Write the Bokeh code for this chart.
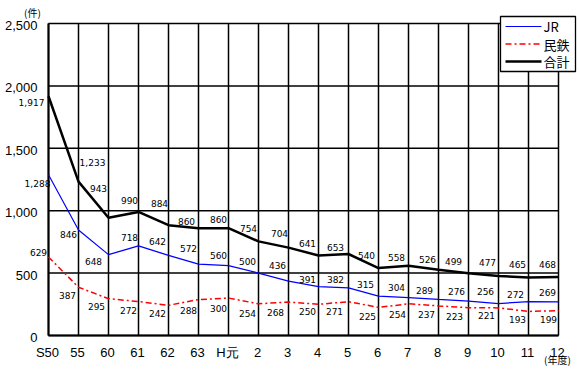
from bokeh.plotting import figure
from bokeh.models import ColumnDataSource, Range1d
from bokeh.core.properties import value
from bokeh.embed import file_html
from bokeh.resources import INLINE

# ---- data ----
years = ["S50", "55", "60", "61", "62", "63", "H元", "2", "3", "4", "5", "6",
         "7", "8", "9", "10", "11", "12"]
jr = [1288, 846, 648, 718, 642, 572, 560, 500, 436, 391, 382, 315, 304, 289,
      276, 256, 272, 269]
mintetsu = [629, 387, 295, 272, 242, 288, 300, 254, 268, 250, 271, 225, 254,
            237, 223, 221, 193, 199]
total = [1917, 1233, 943, 990, 884, 860, 860, 754, 704, 641, 653, 540, 558,
         526, 499, 477, 465, 468]
y_ticks = [0, 500, 1000, 1500, 2000, 2500]
series_names = ["JR", "民鉄", "合計"]

# ---- label placement (pixel offsets from each point; dy positive = down) ----
total_dx = [-17, 14, -10, -9, -9, -12, -10, -10, -9, -11, -13, -12, -12, -11, -15, -11, -11, -11]
total_dy = [6, -19, -29, -11, -22, -7, -9, -13, -14, -12, -7, -13, -8, -10, -12, -13, -13, -13]
jr_dx = [-11, -10, -15, -9, -11, -10, -10, -11, -11, -11, -13, -13, -12, -14, -12, -13, -13, -11]
jr_dy = [9, 5, 7, -8, -14, -16, -10, -12, -16, -7, -8, -12, -10, -9, -10, -12, -7, -9]
mt_dx = [-10, -11, -12, -10, -11, -10, -10, -11, -13, -11, -14, -11, -11, -12, -14, -12, -11, -10]
mt_dy = [-5, 8, 8, 9, 8, 11, 10, 10, 10, 7, 10, 9, 11, 9, 9, 8, 8, 9]

# ---- geometry (pixels) ----
W, H = 580, 372
FL, FT, FW, FH = 48, 23, 510, 312    # plot box inside the figure
n = len(years)
ymax = y_ticks[-1]
px_x = FW / (n - 1)
px_y = FH / ymax

xs = list(range(n))
x0 = -FL / px_x
x1 = (W - FL) / px_x
y1 = (FT + FH) / px_y
y0 = -(H - FT - FH) / px_y

p = figure(width=W, height=H, output_backend="svg", toolbar_location=None,
           x_range=Range1d(x0, x1), y_range=Range1d(y0, y1),
           min_border=0, x_axis_location=None, y_axis_location=None)
p.background_fill_color = "white"
p.border_fill_color = "white"
p.outline_line_color = None
p.grid.visible = False

# grid lines
p.segment(x0=xs, y0=[0] * n, x1=xs, y1=[ymax] * n, line_color="black", line_width=1.5)
p.segment(x0=[0] * len(y_ticks), y0=y_ticks, x1=[n - 1] * len(y_ticks), y1=y_ticks,
          line_color="black", line_width=1.5)
# axis lines (heavier)
p.segment(x0=[0, 0], y0=[0, 0], x1=[0, n - 1], y1=[ymax, 0], line_color="black", line_width=2)

# tick labels
p.text(x=[0] * len(y_ticks), y=y_ticks, text=[f"{v:,}" for v in y_ticks],
       text_align="right", text_baseline="middle", x_offset=-11, y_offset=2,
       text_font=value("Liberation Sans"), text_font_size="13px", text_color="black")
p.text(x=xs, y=[0] * n, text=years, text_align="center", text_baseline="middle",
       x_offset=-1, y_offset=17,
       text_font=value("Liberation Sans"), text_font_size="13px", text_color="black")
p.text(x=[0], y=[ymax], x_offset=-16, y_offset=-11, text=["(件)"],
       text_align="center", text_baseline="middle",
       text_font=value("Noto Sans CJK JP"), text_font_size="10px", text_color="black")
p.text(x=[n - 1], y=[0], x_offset=-1, y_offset=24, text=["(年度)"],
       text_align="center", text_baseline="middle",
       text_font=value("Noto Sans CJK JP"), text_font_size="10px", text_color="black")

# lines
p.line(xs, jr, line_color="#0000FF", line_width=1.2)
p.line(xs, mintetsu, line_color="#FF0000", line_width=1.5, line_dash="6 3 2 3")
p.line(xs, total, line_color="black", line_width=2.5)

# value labels
def add_labels(vals, dx, dy):
    src = ColumnDataSource(dict(x=xs, y=vals, t=[f"{v:,}" for v in vals], dx=dx, dy=dy))
    p.text(x="x", y="y", text="t", x_offset="dx", y_offset="dy", source=src,
           text_align="center", text_baseline="middle",
           text_font=value("DejaVu Sans"), text_font_size="9px", text_color="black")

add_labels(total, total_dx, total_dy)
add_labels(jr, jr_dx, jr_dy)
add_labels(mintetsu, mt_dx, mt_dy)

# legend (drawn in data space anchored to the plot box's top-right corner)
lx = (n - 1) - 58 / px_x          # box left
lr = (n - 1) + 17 / px_x          # box right
ltop = ymax + 7 / px_y
lbot = ymax - 48 / px_y
p.quad(left=[lx], right=[lr], top=[ltop], bottom=[lbot], fill_color="white",
       line_color="black", line_width=1.3)
row_y = [ymax - (3 + 17.5 * i) / px_y for i in range(3)]
gx0 = lx + 5 / px_x
gx1 = lx + 41 / px_x
p.line([gx0, gx1], [row_y[0]] * 2, line_color="#0000FF", line_width=1.2)
p.line([gx0, gx1], [row_y[1]] * 2, line_color="#FF0000", line_width=1.5, line_dash="6 3 2 3")
p.line([gx0, gx1], [row_y[2]] * 2, line_color="black", line_width=2.5)
p.text(x=[gx1] * 3, y=row_y, x_offset=2, text=series_names, text_align="left",
       text_baseline="middle", text_font=value("Noto Sans CJK JP"),
       text_font_size="13px", text_color="black")

open("out.html", "w").write(file_html(p, INLINE))
